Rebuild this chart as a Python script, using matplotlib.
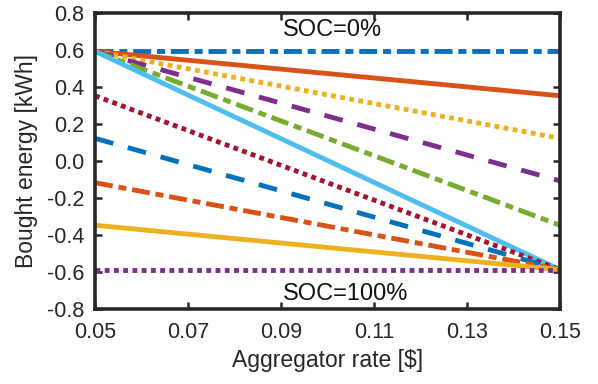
import matplotlib.pyplot as plt

plt.rcParams['font.family'] = ['Liberation Sans', 'DejaVu Sans']

# aggregator rate endpoints
rate = [0.05, 0.15]

# bought energy at start / end rate for every case
start_vals = [0.59, 0.59, 0.59, 0.59, 0.59, 0.59, 0.35, 0.12, -0.12, -0.35, -0.59]
end_vals = [0.59, 0.35, 0.12, -0.11, -0.35, -0.59, -0.59, -0.59, -0.59, -0.59, -0.59]

# MATLAB default colour order
colors = ['#0072BD', '#D95319', '#EDB120', '#7E2F8E', '#77AC30', '#4DBEEE', '#A2142F',
          '#0072BD', '#D95319', '#EDB120', '#7E2F8E']
styles = ['-.', '-', ':', '--', '-.', '-', ':', '--', '-.', '-', ':']

# dash patterns close to MATLAB's look (in units of line width)
dash_map = {'-': None, '--': (3.9, 3.1), '-.': (3.7, 1.2, 1.65, 1.2), ':': (1.0, 0.9)}

fig = plt.figure(figsize=(5.98, 3.84), dpi=100)
ax = fig.add_axes([0.1589, 0.1966, 0.7776, 0.7708])

for s, e, c, ls in zip(start_vals, end_vals, colors, styles):
    line, = ax.plot(rate, [s, e], color=c, linestyle='-', linewidth=3.5,
                    solid_capstyle='butt')
    if dash_map[ls] is not None:
        line.set_dashes(dash_map[ls])
        line.set_dash_capstyle('butt')

ax.text(0.0905, 0.707, 'SOC=0%', ha='left', va='center', fontsize=17, color='#111111')
ax.text(0.0905, -0.72, 'SOC=100%', ha='left', va='center', fontsize=17, color='#111111')

ax.set_xlim(0.05, 0.15)
ax.set_ylim(-0.8, 0.8)
ax.set_xticks([0.05, 0.07, 0.09, 0.11, 0.13, 0.15])
ax.set_xticklabels(['0.05', '0.07', '0.09', '0.11', '0.13', '0.15'])
ax.set_yticks([-0.8, -0.6, -0.4, -0.2, 0.0, 0.2, 0.4, 0.6, 0.8])
ax.set_yticklabels(['-0.8', '-0.6', '-0.4', '-0.2', '0.0', '0.2', '0.4', '0.6', '0.8'])
ax.tick_params(direction='in', top=True, right=True, length=5, width=1.8,
               labelsize=15.5, color='#262626', labelcolor='#262626')
ax.tick_params(axis='x', pad=10)
ax.tick_params(axis='y', pad=8)
for sp in ax.spines.values():
    sp.set_linewidth(2.6)
    sp.set_color('#262626')

ax.set_xlabel('Aggregator rate [$]', fontsize=16.5, color='#262626', labelpad=4)
ax.set_ylabel('Bought energy [kWh]', fontsize=16.5, color='#262626', labelpad=6)

fig.savefig('out.png', dpi=100)
